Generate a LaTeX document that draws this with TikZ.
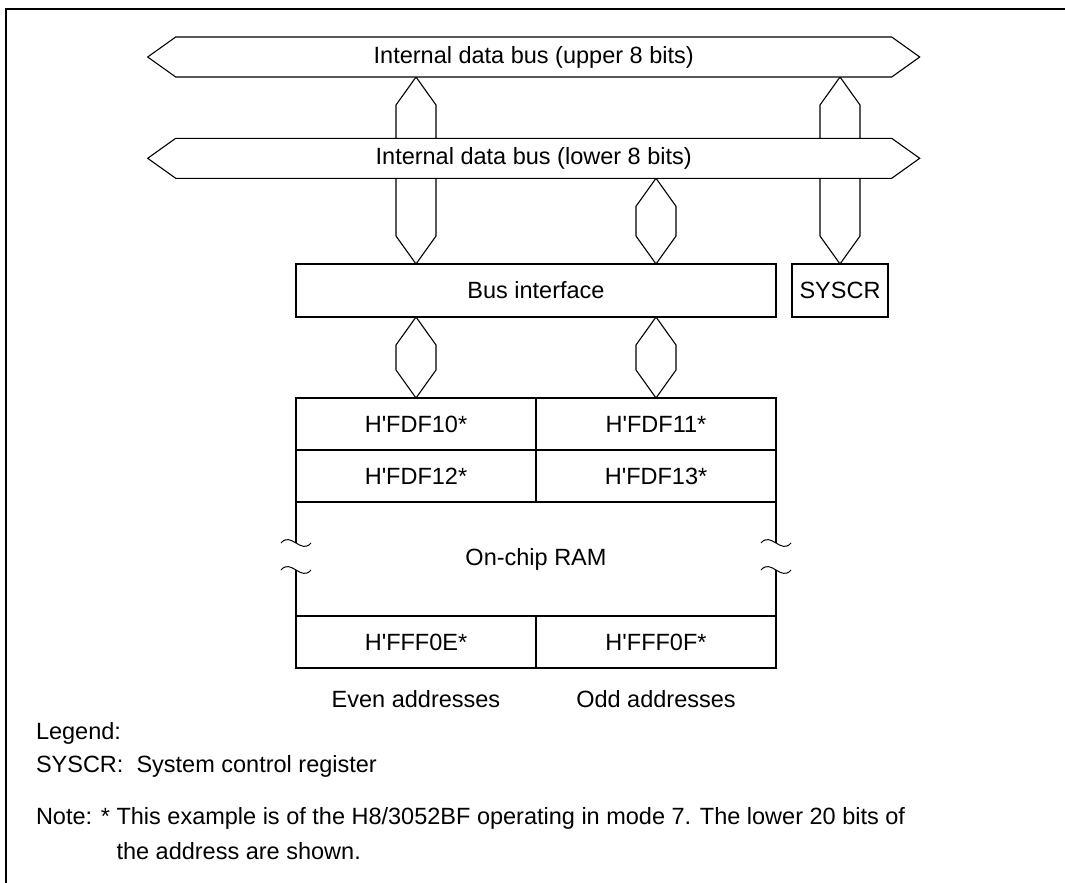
\documentclass[tikz,border=0pt]{standalone}
\usepackage{fontspec}
\setmainfont{Liberation Sans}
\usetikzlibrary{calc}
\pgfdeclarelayer{bg}
\pgfdeclarelayer{mid}
\pgfsetlayers{bg,mid,main}
\newcommand\vbus[2]{% #1 top point, #2 bottom point (named coordinates)
  \draw[ln,fill=white] (#1) -- ($(#1)+(20,28)$) -- ($(#2)+(20,-28)$) -- (#2)
     -- ($(#2)+(-20,-28)$) -- ($(#1)+(-20,28)$) -- cycle;}
\newcommand\hbus[1]{% #1 node name of the bus label
  \draw[ln,fill=white] (#1.north west) -- (#1.north east) -- ++(28,20) -- (#1.south east)
     -- (#1.south west) -- ++(-28,-20) -- cycle;}
\newcommand\q{\textquotesingle}
\begin{document}
\begin{tikzpicture}[x=1pt,y=-1pt,
  every node/.style={inner sep=0pt,outer sep=0pt,font=\fontsize{23.5}{28}\selectfont},
  ln/.style={line width=1.1pt},
  buslabel/.style={minimum width=716pt, minimum height=40pt},
  box/.style={draw, ln, rectangle},
  cell/.style={box, minimum width=240pt, minimum height=52pt},
  txt/.style={anchor=west},
  wave/.style={line width=1pt}
]
\useasboundingbox (0,0) rectangle (1065,883);
\draw[line width=2pt] (6,883) -- (6,9) -- (1065,9);

% internal buses (labels)
\node[buslabel] (ubus) at (533.7,57) {Internal data bus (upper 8 bits)};
\node[buslabel] (lbus) at (533.7,158.3) {Internal data bus (lower 8 bits)};

% bus interface and SYSCR
\node[box, minimum width=480pt, minimum height=53pt] (bi) at (536,290.5) {Bus interface};
\node[box, minimum width=96pt, minimum height=53pt] (sys) at (840,290.5) {SYSCR};

% RAM cells
\node[cell] (a10) at (416,424) {H\q FDF10*};
\node[cell] (a11) at (656,424) {H\q FDF11*};
\node[cell] (a12) at (416,476) {H\q FDF12*};
\node[cell] (a13) at (656,476) {H\q FDF13*};
\node[minimum width=480pt, minimum height=114pt] (ram) at (536,559) {On-chip RAM};
\node[cell] (a0E) at (416,642) {H\q FFF0E*};
\node[cell] (a0F) at (656,642) {H\q FFF0F*};

% connector end points
\coordinate (vAt) at (ubus.south -| a10.north);
\coordinate (vAb) at (bi.north -| a10.north);
\coordinate (vBt) at (lbus.south -| a11.north);
\coordinate (vBb) at (bi.north -| a11.north);
\coordinate (vCt) at (ubus.south -| sys.north);
\coordinate (vCb) at (sys.north);
\coordinate (vDt) at (bi.south -| a10.north);
\coordinate (vEt) at (bi.south -| a11.north);

\begin{pgfonlayer}{bg}
  \vbus{vAt}{vAb}
  \vbus{vCt}{vCb}
  \vbus{vBt}{vBb}
  \vbus{vDt}{a10.north}
  \vbus{vEt}{a11.north}
\end{pgfonlayer}
\begin{pgfonlayer}{mid}
  \hbus{ubus}
  \hbus{lbus}
\end{pgfonlayer}

% RAM sides with break marks
\draw[ln] (a12.south west) -- ++(0,41) coordinate (wl1);
\draw[ln] (a0E.north west) -- ++(0,-46) coordinate (wl2);
\draw[ln] (a13.south east) -- ++(0,41) coordinate (wr1);
\draw[ln] (a0F.north east) -- ++(0,-46) coordinate (wr2);
\foreach \w in {wl1,wl2,wr1,wr2}{
  \draw[wave] ($(\w)+(-15,0)$) .. controls +(10,-12) and +(-10,12) .. ($(\w)+(15,0)$);
}

% column labels
\node (even) at (416,699) {Even addresses};
\node (odd) at (656,699) {Odd addresses};

% legend and note
\node[txt] (leg) at (36,733) {Legend:};
\node[txt] (legs) at (36,766) {SYSCR:\ \ System control register};
\node[txt] (note) at (36,818) {Note: * This example is of the H8/3052BF operating in mode 7. The lower 20 bits of};
\node[txt] (note2) at (36,851) {\phantom{Note: * }the address are shown.};
\end{tikzpicture}
\end{document}
